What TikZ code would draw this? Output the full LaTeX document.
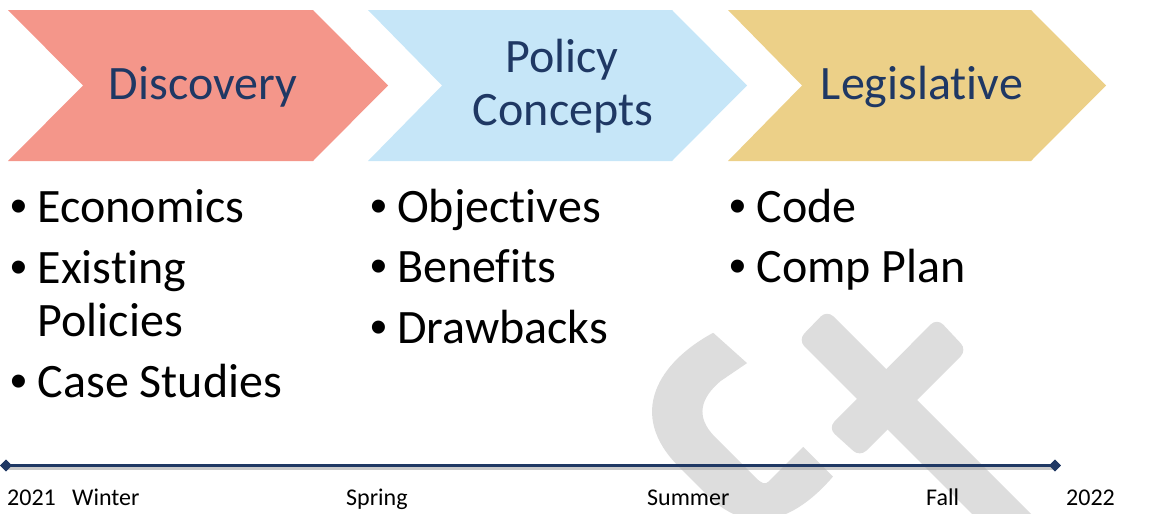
\documentclass[tikz,border=0pt]{standalone}
\usepackage{fontspec}
\setmainfont[Ligatures=NoCommon]{Carlito}
\newfontfamily\bulf{Liberation Sans}
\usetikzlibrary{shapes.geometric}
\definecolor{salmon}{HTML}{F4968A}
\definecolor{skyb}{HTML}{C6E6F8}
\definecolor{goldc}{HTML}{ECD088}
\definecolor{navy}{HTML}{1F3864}
\definecolor{wmgray}{HTML}{DDDDDD}
\newcommand\bu{\llap{{\bulf •}\hspace{10pt}}}
\begin{document}
\begin{tikzpicture}[x=1pt,y=-1pt,
  title/.style={anchor=base, inner sep=0pt, text=navy, font=\fontsize{48}{54}\selectfont},
  item/.style={anchor=base west, inner sep=0pt, font=\fontsize{48}{54}\selectfont},
  tl/.style={anchor=base west, inner sep=0pt, font=\fontsize{24}{28}\selectfont},
  wm/.style={fill=wmgray, draw=none},
  endmark/.style={diamond, fill=navy, draw=none, inner sep=0pt, minimum size=12pt},
  tline/.style={draw=navy, line width=3pt},
  tshadow/.style={draw=black!35, line width=3pt, opacity=0.6}]
\useasboundingbox (0,0) rectangle (1157,514);
% watermark
\begin{scope}
  \clip (0,0) rectangle (1157,514);
  \fill[wm, rounded corners=9pt] (827,310) -- (1077,560) -- (1048,590) -- (798,340) -- cycle;
  \fill[wm, rounded corners=9pt] (937,318) -- (967,350) -- (860,457) -- (828,428) -- cycle;
  \begin{scope}[x={(0.7071pt,0.7071pt)}, y={(0.7071pt,-0.7071pt)}]
    \fill[wm] (269,739.6) .. controls (210,722) and (150,735) .. (150,810)
      -- (150,850) .. controls (150,915) and (200,930) .. (252,926)
      -- (252,884) -- (203,884) .. controls (198,884) and (196.6,880) .. (196.6,872)
      -- (196.6,815) .. controls (196.6,785) and (215,777) .. (240,779)
      -- (271.5,785) -- cycle;
  \end{scope}
\end{scope}
% chevrons
\fill[salmon] (8,10) -- (313,10) -- (388,85.5) -- (313,161) -- (8,161) -- (83,85.5) -- cycle;
\fill[skyb] (368,10) -- (672,10) -- (747,85.5) -- (672,161) -- (368,161) -- (442,85.5) -- cycle;
\fill[goldc] (728,10) -- (1031,10) -- (1106,85.5) -- (1031,161) -- (728,161) -- (802,85.5) -- cycle;
\node[title] (disc) at (203,99) {Discovery};
\node[title] (pol) at (562,72) {Policy};
\node[title] (con) at (563,125) {Concepts};
\node[title] (leg) at (922,99) {Legislative};
% bullets
\node[item] (a1) at (37.5,222) {\bu Economics};
\node[item] (a2) at (37.5,283) {\bu Existing};
\node[item] (a3) at (37.5,336) {Policies};
\node[item] (a4) at (37.5,397) {\bu Case Studies};
\node[item] (b1) at (397,222) {\bu Objectives};
\node[item] (b2) at (397,282) {\bu Benefits};
\node[item] (b3) at (397,343) {\bu Drawbacks};
\node[item] (c1) at (756.5,222) {\bu Code};
\node[item] (c2) at (756.5,282) {\bu Comp Plan};
% timeline
\node[endmark] (t0) at (6,465.5) {};
\node[endmark] (t1) at (1055,465.5) {};
\draw[tshadow] ([yshift=-3pt]t0.center) -- ([yshift=-3pt]t1.center);
\draw[tline] (t0.center) -- (t1.center);
\node[endmark] at (t0.center) {};
\node[endmark] at (t1.center) {};
\node[tl] (y1) at (7,505) {2021};
\node[tl] (wi) at (72,505) {Winter};
\node[tl] (sp) at (346,505) {Spring};
\node[tl] (su) at (647,505) {Summer};
\node[tl] (fa) at (926,505) {Fall};
\node[tl] (y2) at (1066,505) {2022};
\end{tikzpicture}
\end{document}
